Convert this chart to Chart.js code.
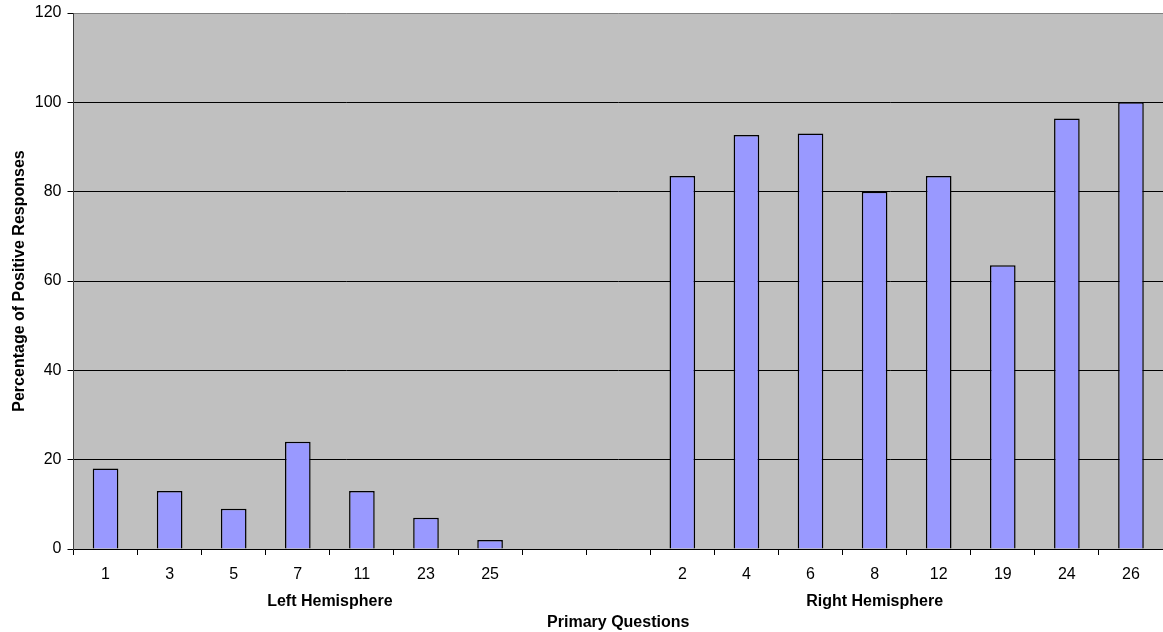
<!DOCTYPE html>
<html>
<head>
<meta charset="utf-8">
<script src="https://cdn.jsdelivr.net/npm/chart.js@4"></script>
<style>
  body { margin: 0; background: #fff; }
  #wrap { width: 1163px; height: 632px; }
</style>
</head>
<body>
<div id="wrap"><canvas id="chart"></canvas></div>
<script>
// question numbers, two blank slots split the hemispheres
var questions = ['1', '3', '5', '7', '11', '23', '25', '', '', '2', '4', '6', '8', '12', '19', '24', '26'];
var positive = [18, 13, 9, 24, 13, 7, 2, null, null, 83.5, 92.7, 93, 80, 83.5, 63.5, 96.4, 100];
var groups = ['Left Hemisphere', 'Right Hemisphere'];
var groupCenters = [3.5, 12]; // in category index units
var yTicks = [0, 20, 40, 60, 80, 100, 120];

var font = "'Liberation Sans', Arial, sans-serif";

// gray plot background
var plotBg = {
    id: 'plotBg',
    beforeDraw: function(chart) {
        var a = chart.chartArea, ctx = chart.ctx;
        ctx.save();
        ctx.fillStyle = '#C0C0C0';
        ctx.fillRect(a.left, a.top, a.right - a.left, a.bottom - a.top);
        ctx.restore();
    }
};

var ctx = document.getElementById('chart');
var chart = new Chart(ctx, {
    type: 'bar',
    data: {
        labels: questions,
        datasets: [{
            label: 'Percentage of Positive Responses',
            data: positive,
            backgroundColor: '#9999FF',
            borderColor: '#000000',
            borderWidth: 1.5,
            barPercentage: 0.4,
            categoryPercentage: 1.0
        }]
    },
    options: {
        responsive: true,
        maintainAspectRatio: false,
        animation: false,
        layout: { padding: { top: 13, left: 0, right: 0, bottom: 0 } },
        plugins: {
            legend: { display: false },
            tooltip: { enabled: false }
        },
        scales: {
            x: {
                type: 'category',
                position: 'bottom',
                weight: 0,
                grid: {
                    display: true,
                    offset: true,
                    drawOnChartArea: false,
                    tickLength: 6,
                    tickColor: '#000',
                    color: '#000'
                },
                border: { display: true, color: '#000', width: 1 },
                ticks: {
                    color: '#000',
                    font: { family: font, size: 16 },
                    padding: 10,
                    maxRotation: 0,
                    autoSkip: false
                },
                afterFit: function(scale) {
                    scale.height = 35;
                    scale.paddingLeft = 0;
                    scale.paddingRight = 0;
                }
            },
            x2: {
                type: 'linear',
                position: 'bottom',
                weight: 1,
                offset: false,
                min: -0.5,
                max: questions.length - 0.5,
                grid: { display: false },
                border: { display: false },
                afterBuildTicks: function(scale) {
                    scale.ticks = groupCenters.map(function(v) { return { value: v }; });
                },
                ticks: {
                    color: '#000',
                    font: { family: font, size: 16, weight: 'bold' },
                    padding: 0,
                    maxRotation: 0,
                    autoSkip: false,
                    callback: function(value, i) { return groups[i]; }
                },
                title: {
                    display: true,
                    text: 'Primary Questions',
                    color: '#000',
                    font: { family: font, size: 16, weight: 'bold' },
                    padding: { top: 4, bottom: 0 }
                },
                afterFit: function(scale) {
                    scale.height = 48;
                    scale.paddingLeft = 0;
                    scale.paddingRight = 0;
                }
            },
            y: {
                min: 0,
                max: 120,
                afterBuildTicks: function(scale) {
                    scale.ticks = yTicks.map(function(v) { return { value: v }; });
                },
                grid: {
                    color: function(c) { return c.tick && c.tick.value === 120 ? '#808080' : '#000'; },
                    lineWidth: 1,
                    tickLength: 6,
                    tickColor: '#000'
                },
                border: { display: true, color: '#404040', width: 1 },
                ticks: {
                    color: '#000',
                    font: { family: font, size: 16 },
                    padding: 6
                },
                title: {
                    display: true,
                    text: 'Percentage of Positive Responses',
                    color: '#000',
                    font: { family: font, size: 16, weight: 'bold' },
                    padding: { top: 10, bottom: 0 }
                },
                afterFit: function(scale) {
                    scale.width = 73.5;
                    scale.paddingTop = 0;
                    scale.paddingBottom = 0;
                }
            }
        }
    },
    plugins: [plotBg]
});
</script>
</body>
</html>
